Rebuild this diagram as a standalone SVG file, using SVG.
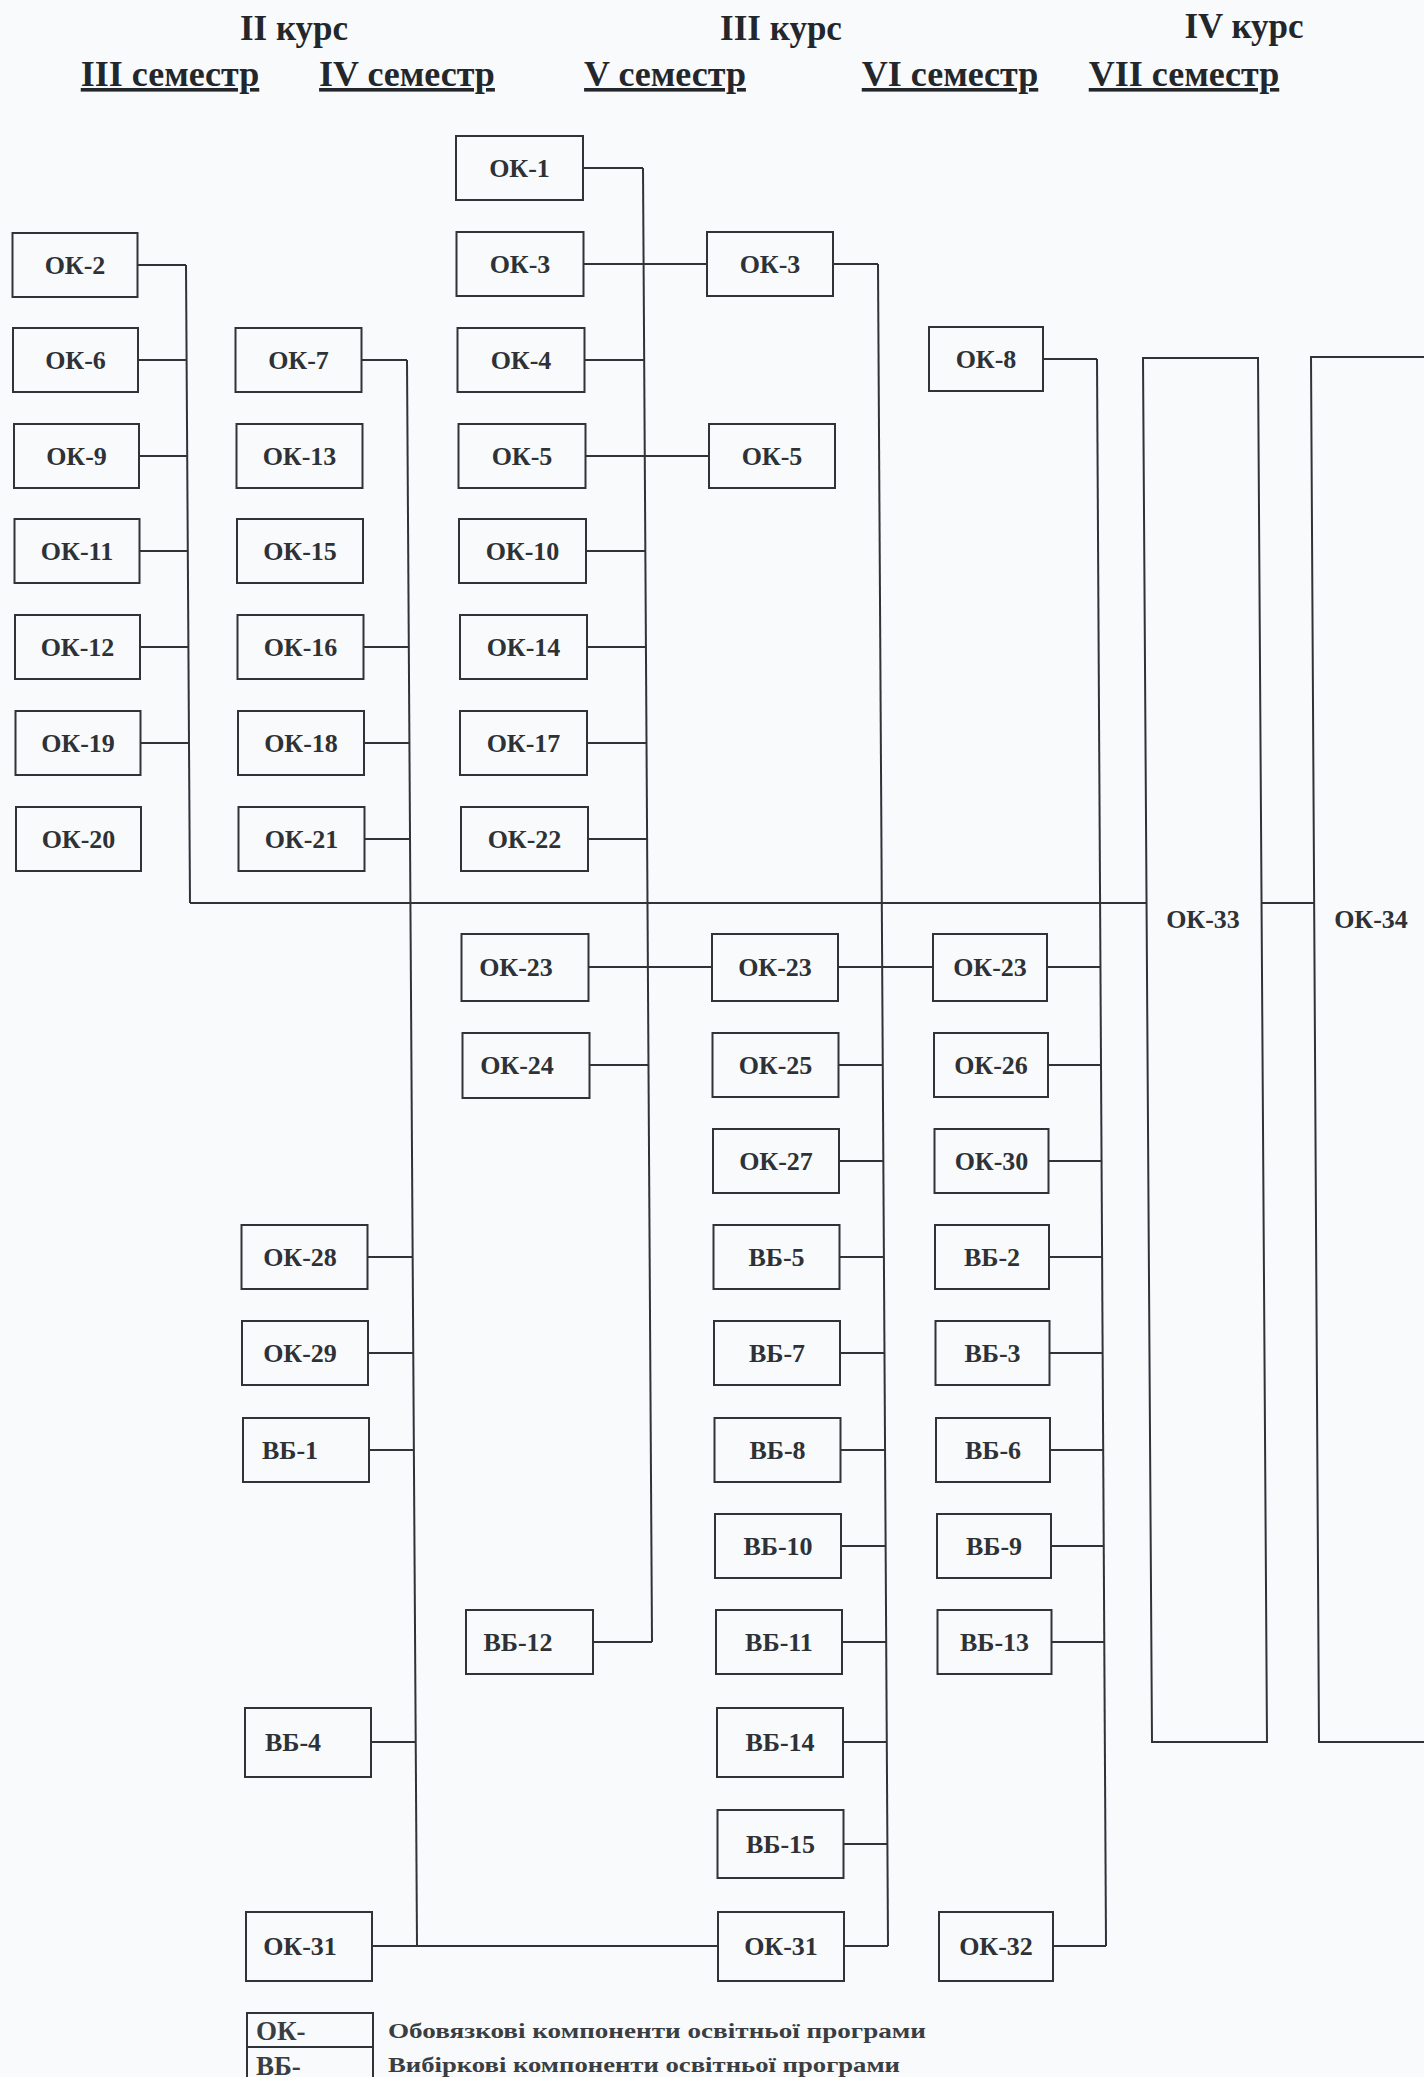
<svg xmlns="http://www.w3.org/2000/svg" width="1424" height="2077" viewBox="0 0 1424 2077">
<style>
.bg{fill:#f9fafc}
.box{fill:#f9fafc;stroke:#2f3438;stroke-width:2}
.lbl{font-family:"Liberation Serif","Times New Roman",serif;font-weight:bold;font-size:26px;fill:#2e3236;text-anchor:middle}
.hdr{font-family:"Liberation Serif","Times New Roman",serif;font-weight:bold;font-size:35px;fill:#23272b;text-anchor:middle}
.sem{font-family:"Liberation Serif","Times New Roman",serif;font-weight:bold;font-size:36px;fill:#23272b;text-anchor:middle;text-decoration:underline}
.leg{font-family:"Liberation Serif","Times New Roman",serif;font-weight:bold;font-size:22px;fill:#3a3e42}
.legk{font-family:"Liberation Serif","Times New Roman",serif;font-weight:bold;font-size:27px;fill:#3a3e42}
.ln{stroke:#2f3438;stroke-width:2;fill:none}
</style>
<rect class="bg" x="0" y="0" width="1424" height="2077"/>
<g id="headers">
<text class="hdr" x="294" y="40">II курс</text>
<text class="hdr" x="781" y="40">III курс</text>
<text class="hdr" x="1244" y="38">IV курс</text>
<text class="sem" x="170" y="86">III семестр</text>
<text class="sem" x="407" y="86">IV семестр</text>
<text class="sem" x="665" y="86">V семестр</text>
<text class="sem" x="950" y="86">VI семестр</text>
<text class="sem" x="1184" y="86">VII семестр</text>
</g>
<g id="connectors" class="ln">
<line x1="186" y1="265" x2="190" y2="903"/>
<line x1="407" y1="360" x2="417" y2="1946"/>
<line x1="643" y1="168" x2="652" y2="1642"/>
<line x1="878" y1="264" x2="888" y2="1946"/>
<line x1="1097" y1="359" x2="1106" y2="1946"/>
<line x1="190" y1="903" x2="1146" y2="903"/>
<line x1="1261" y1="903" x2="1314" y2="903"/>
<line x1="137.5" y1="265" x2="186" y2="265"/>
<line x1="138" y1="360" x2="186.6" y2="360"/>
<line x1="139" y1="456" x2="187.2" y2="456"/>
<line x1="139.5" y1="551" x2="187.8" y2="551"/>
<line x1="140" y1="647" x2="188.4" y2="647"/>
<line x1="140.5" y1="743" x2="189" y2="743"/>
<line x1="361.5" y1="360" x2="407" y2="360"/>
<line x1="363.5" y1="647" x2="408.8" y2="647"/>
<line x1="364" y1="743" x2="409.4" y2="743"/>
<line x1="364.5" y1="839" x2="410" y2="839"/>
<line x1="367.5" y1="1257" x2="412.7" y2="1257"/>
<line x1="368" y1="1353" x2="413.3" y2="1353"/>
<line x1="369" y1="1450" x2="413.9" y2="1450"/>
<line x1="371" y1="1742" x2="415.7" y2="1742"/>
<line x1="372" y1="1946" x2="718" y2="1946"/>
<line x1="583" y1="168" x2="643" y2="168"/>
<line x1="583.5" y1="264" x2="707" y2="264"/>
<line x1="584.5" y1="360" x2="644.2" y2="360"/>
<line x1="585.5" y1="456" x2="709" y2="456"/>
<line x1="586" y1="551" x2="645.3" y2="551"/>
<line x1="587" y1="647" x2="645.9" y2="647"/>
<line x1="587" y1="743" x2="646.5" y2="743"/>
<line x1="588" y1="839" x2="647.1" y2="839"/>
<line x1="588.5" y1="967" x2="712" y2="967"/>
<line x1="589.5" y1="1065" x2="648.5" y2="1065"/>
<line x1="593" y1="1642" x2="652" y2="1642"/>
<line x1="833" y1="264" x2="878" y2="264"/>
<line x1="838" y1="967" x2="933" y2="967"/>
<line x1="838.5" y1="1065" x2="882.8" y2="1065"/>
<line x1="839" y1="1161" x2="883.3" y2="1161"/>
<line x1="839.5" y1="1257" x2="883.9" y2="1257"/>
<line x1="840" y1="1353" x2="884.5" y2="1353"/>
<line x1="840.5" y1="1450" x2="885" y2="1450"/>
<line x1="841" y1="1546" x2="885.6" y2="1546"/>
<line x1="842" y1="1642" x2="886.2" y2="1642"/>
<line x1="843" y1="1742" x2="886.8" y2="1742"/>
<line x1="843.5" y1="1844" x2="887.4" y2="1844"/>
<line x1="844" y1="1946" x2="888" y2="1946"/>
<line x1="1043" y1="359" x2="1097" y2="359"/>
<line x1="1047" y1="967" x2="1100.4" y2="967"/>
<line x1="1048" y1="1065" x2="1101" y2="1065"/>
<line x1="1048.5" y1="1161" x2="1101.5" y2="1161"/>
<line x1="1049" y1="1257" x2="1102.1" y2="1257"/>
<line x1="1049.5" y1="1353" x2="1102.6" y2="1353"/>
<line x1="1050" y1="1450" x2="1103.2" y2="1450"/>
<line x1="1051" y1="1546" x2="1103.7" y2="1546"/>
<line x1="1051.5" y1="1642" x2="1104.3" y2="1642"/>
<line x1="1053" y1="1946" x2="1106" y2="1946"/>
</g>
<!-- Column III semester -->
<g id="n-ok2"><rect class="box" x="12.5" y="233" width="125" height="64"/><text class="lbl" x="75" y="274">ОК-2</text></g>
<g id="n-ok6"><rect class="box" x="13" y="328" width="125" height="64"/><text class="lbl" x="75.5" y="369">ОК-6</text></g>
<g id="n-ok9"><rect class="box" x="14" y="424" width="125" height="64"/><text class="lbl" x="76.5" y="465">ОК-9</text></g>
<g id="n-ok11"><rect class="box" x="14.5" y="519" width="125" height="64"/><text class="lbl" x="77" y="560">ОК-11</text></g>
<g id="n-ok12"><rect class="box" x="15" y="615" width="125" height="64"/><text class="lbl" x="77.5" y="656">ОК-12</text></g>
<g id="n-ok19"><rect class="box" x="15.5" y="711" width="125" height="64"/><text class="lbl" x="78" y="752">ОК-19</text></g>
<g id="n-ok20"><rect class="box" x="16" y="807" width="125" height="64"/><text class="lbl" x="78.5" y="848">ОК-20</text></g>
<!-- Column IV semester -->
<g id="n-ok7"><rect class="box" x="235.5" y="328" width="126" height="64"/><text class="lbl" x="298.5" y="369">ОК-7</text></g>
<g id="n-ok13"><rect class="box" x="236.5" y="424" width="126" height="64"/><text class="lbl" x="299.5" y="465">ОК-13</text></g>
<g id="n-ok15"><rect class="box" x="237" y="519" width="126" height="64"/><text class="lbl" x="300" y="560">ОК-15</text></g>
<g id="n-ok16"><rect class="box" x="237.5" y="615" width="126" height="64"/><text class="lbl" x="300.5" y="656">ОК-16</text></g>
<g id="n-ok18"><rect class="box" x="238" y="711" width="126" height="64"/><text class="lbl" x="301" y="752">ОК-18</text></g>
<g id="n-ok21"><rect class="box" x="238.5" y="807" width="126" height="64"/><text class="lbl" x="301.5" y="848">ОК-21</text></g>
<g id="n-ok28"><rect class="box" x="241.5" y="1225" width="126" height="64"/><text class="lbl" x="300" y="1266">ОК-28</text></g>
<g id="n-ok29"><rect class="box" x="242" y="1321" width="126" height="64"/><text class="lbl" x="300" y="1362">ОК-29</text></g>
<g id="n-vb1"><rect class="box" x="243" y="1418" width="126" height="64"/><text class="lbl" x="290" y="1459">ВБ-1</text></g>
<g id="n-vb4"><rect class="box" x="245" y="1708" width="126" height="69"/><text class="lbl" x="293" y="1751">ВБ-4</text></g>
<g id="n-ok31a"><rect class="box" x="246" y="1912" width="126" height="69"/><text class="lbl" x="300" y="1955">ОК-31</text></g>
<!-- Column V semester (left) -->
<g id="n-ok1"><rect class="box" x="456" y="136" width="127" height="64"/><text class="lbl" x="519.5" y="177">ОК-1</text></g>
<g id="n-ok3a"><rect class="box" x="456.5" y="232" width="127" height="64"/><text class="lbl" x="520" y="273">ОК-3</text></g>
<g id="n-ok4"><rect class="box" x="457.5" y="328" width="127" height="64"/><text class="lbl" x="521" y="369">ОК-4</text></g>
<g id="n-ok5a"><rect class="box" x="458.5" y="424" width="127" height="64"/><text class="lbl" x="522" y="465">ОК-5</text></g>
<g id="n-ok10"><rect class="box" x="459" y="519" width="127" height="64"/><text class="lbl" x="522.5" y="560">ОК-10</text></g>
<g id="n-ok14"><rect class="box" x="460" y="615" width="127" height="64"/><text class="lbl" x="523.5" y="656">ОК-14</text></g>
<g id="n-ok17"><rect class="box" x="460" y="711" width="127" height="64"/><text class="lbl" x="523.5" y="752">ОК-17</text></g>
<g id="n-ok22"><rect class="box" x="461" y="807" width="127" height="64"/><text class="lbl" x="524.5" y="848">ОК-22</text></g>
<g id="n-ok23a"><rect class="box" x="461.5" y="934" width="127" height="67"/><text class="lbl" x="516" y="976">ОК-23</text></g>
<g id="n-ok24"><rect class="box" x="462.5" y="1033" width="127" height="65"/><text class="lbl" x="517" y="1074">ОК-24</text></g>
<g id="n-vb12"><rect class="box" x="466" y="1610" width="127" height="64"/><text class="lbl" x="518" y="1651">ВБ-12</text></g>
<!-- Column V semester (right) -->
<g id="n-ok3b"><rect class="box" x="707" y="232" width="126" height="64"/><text class="lbl" x="770" y="273">ОК-3</text></g>
<g id="n-ok5b"><rect class="box" x="709" y="424" width="126" height="64"/><text class="lbl" x="772" y="465">ОК-5</text></g>
<g id="n-ok23b"><rect class="box" x="712" y="934" width="126" height="67"/><text class="lbl" x="775" y="976">ОК-23</text></g>
<g id="n-ok25"><rect class="box" x="712.5" y="1033" width="126" height="64"/><text class="lbl" x="775.5" y="1074">ОК-25</text></g>
<g id="n-ok27"><rect class="box" x="713" y="1129" width="126" height="64"/><text class="lbl" x="776" y="1170">ОК-27</text></g>
<g id="n-vb5"><rect class="box" x="713.5" y="1225" width="126" height="64"/><text class="lbl" x="776.5" y="1266">ВБ-5</text></g>
<g id="n-vb7"><rect class="box" x="714" y="1321" width="126" height="64"/><text class="lbl" x="777" y="1362">ВБ-7</text></g>
<g id="n-vb8"><rect class="box" x="714.5" y="1418" width="126" height="64"/><text class="lbl" x="777.5" y="1459">ВБ-8</text></g>
<g id="n-vb10"><rect class="box" x="715" y="1514" width="126" height="64"/><text class="lbl" x="778" y="1555">ВБ-10</text></g>
<g id="n-vb11"><rect class="box" x="716" y="1610" width="126" height="64"/><text class="lbl" x="779" y="1651">ВБ-11</text></g>
<g id="n-vb14"><rect class="box" x="717" y="1708" width="126" height="69"/><text class="lbl" x="780" y="1751">ВБ-14</text></g>
<g id="n-vb15"><rect class="box" x="717.5" y="1810" width="126" height="68"/><text class="lbl" x="780.5" y="1853">ВБ-15</text></g>
<g id="n-ok31b"><rect class="box" x="718" y="1912" width="126" height="69"/><text class="lbl" x="781" y="1955">ОК-31</text></g>
<!-- Column VI semester -->
<g id="n-ok8"><rect class="box" x="929" y="327" width="114" height="64"/><text class="lbl" x="986" y="368">ОК-8</text></g>
<g id="n-ok23c"><rect class="box" x="933" y="934" width="114" height="67"/><text class="lbl" x="990" y="976">ОК-23</text></g>
<g id="n-ok26"><rect class="box" x="934" y="1033" width="114" height="64"/><text class="lbl" x="991" y="1074">ОК-26</text></g>
<g id="n-ok30"><rect class="box" x="934.5" y="1129" width="114" height="64"/><text class="lbl" x="991.5" y="1170">ОК-30</text></g>
<g id="n-vb2"><rect class="box" x="935" y="1225" width="114" height="64"/><text class="lbl" x="992" y="1266">ВБ-2</text></g>
<g id="n-vb3"><rect class="box" x="935.5" y="1321" width="114" height="64"/><text class="lbl" x="992.5" y="1362">ВБ-3</text></g>
<g id="n-vb6"><rect class="box" x="936" y="1418" width="114" height="64"/><text class="lbl" x="993" y="1459">ВБ-6</text></g>
<g id="n-vb9"><rect class="box" x="937" y="1514" width="114" height="64"/><text class="lbl" x="994" y="1555">ВБ-9</text></g>
<g id="n-vb13"><rect class="box" x="937.5" y="1610" width="114" height="64"/><text class="lbl" x="994.5" y="1651">ВБ-13</text></g>
<g id="n-ok32"><rect class="box" x="939" y="1912" width="114" height="69"/><text class="lbl" x="996" y="1955">ОК-32</text></g>
<!-- VII semester -->
<g id="n-ok33"><path class="box" d="M1143,358 L1258,358 L1267,1742 L1152,1742 Z"/><text class="lbl" x="1203" y="928">ОК-33</text></g>
<g id="n-ok34"><path class="box" d="M1440,357 L1311,357 L1319,1742 L1440,1742"/><text class="lbl" x="1371" y="928">ОК-34</text></g>
<!-- Legend -->
<g id="legend">
<path class="ln" d="M247,2080 L247,2013 L373,2013 L373,2080 M247,2047 L373,2047"/>
<text class="legk" x="256" y="2040">ОК-</text>
<text class="legk" x="256" y="2075">ВБ-</text>
<text class="leg" x="388" y="2038" textLength="538" lengthAdjust="spacingAndGlyphs">Обовязкові компоненти освітньої програми</text>
<text class="leg" x="388" y="2072" textLength="512" lengthAdjust="spacingAndGlyphs">Вибіркові компоненти освітньої програми</text>
</g>
</svg>
